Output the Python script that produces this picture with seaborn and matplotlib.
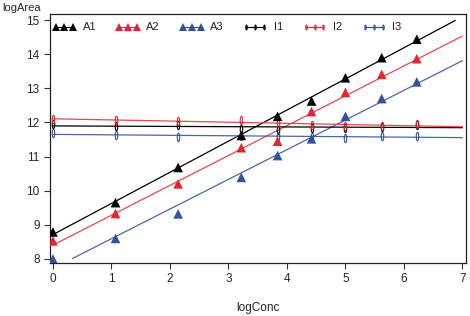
import numpy as np
import pandas as pd
import seaborn as sns
import matplotlib.pyplot as plt
from matplotlib.lines import Line2D

# values
log_conc = [0.0, 1.07, 2.14, 3.22, 3.84, 4.42, 5.0, 5.62, 6.22]
a1 = [8.79, 9.65, 10.68, 11.62, 12.18, 12.63, 13.31, 13.9, 14.44]
a2 = [8.53, 9.33, 10.2, 11.26, 11.45, 12.32, 12.88, 13.41, 13.87]
a3 = [8.0, 8.6, 9.32, 10.39, 11.03, 11.52, 12.18, 12.7, 13.19]
i1 = [11.95, 11.89, 11.92, 11.8, 11.79, 11.85, 11.85, 11.87, 11.94]
i2 = [12.09, 12.08, 12.04, 12.06, 11.98, 11.94, 11.89, 11.89, 11.95]
i3 = [11.7, 11.63, 11.57, 11.6, 11.6, 11.58, 11.55, 11.6, 11.6]

a_names = ['A1', 'A2', 'A3']
i_names = ['I1', 'I2', 'I3']
colors = ['#000000', '#e0262f', '#34539b']
line_colors = ['#000000', '#e5484d', '#4a66a8']

df_a = pd.DataFrame({'logConc': log_conc * 3, 'logArea': a1 + a2 + a3,
                     'grp': np.repeat(a_names, len(log_conc))})
df_i = pd.DataFrame({'logConc': log_conc * 3, 'logArea': i1 + i2 + i3,
                     'grp': np.repeat(i_names, len(log_conc))})

# straight line fits, drawn only where they fall inside 8..15
grid = np.linspace(0, 7, 400)
fits = []
for name, d in list(df_a.groupby('grp')) + list(df_i.groupby('grp')):
    k, b = np.polyfit(d['logConc'], d['logArea'], 1)
    yy = k * grid + b
    keep = (yy >= 8) & (yy <= 15)
    fits.append(pd.DataFrame({'logConc': grid[keep], 'logArea': yy[keep], 'grp': name}))
df_fit = pd.concat(fits)

sns.set_style('ticks')
plt.rcParams['font.family'] = ['Liberation Sans', 'DejaVu Sans']

# tall narrow open "0" marker
t = np.linspace(0, 2 * np.pi, 40)
oval = list(zip(0.3 * np.cos(t), np.sin(t)))

fig = plt.figure(figsize=(4.7, 3.16), dpi=100)
ax = fig.add_axes([0.1064, 0.1677, 0.885, 0.788])

pal = dict(zip(a_names + i_names, line_colors + line_colors))
sns.lineplot(data=df_fit, x='logConc', y='logArea', hue='grp', palette=pal,
             estimator=None, sort=True, linewidth=0.9, legend=False, ax=ax)

for name, c in zip(i_names, colors):
    sub = df_i[df_i['grp'] == name]
    sns.lineplot(data=sub, x='logConc', y='logArea', color=c, linestyle='',
                 marker=oval, markersize=6, mfc='none', mec=c, mew=0.8,
                 estimator=None, legend=False, ax=ax)

sns.scatterplot(data=df_a, x='logConc', y='logArea', hue='grp',
                palette=dict(zip(a_names, colors)), marker='^', s=48,
                linewidth=0, legend=False, ax=ax, zorder=3)

ax.set_xlim(-0.05, 7.06)
ax.set_ylim(7.88, 15.18)
ax.set_xticks(range(0, 8))
ax.set_yticks(range(8, 16))
ax.tick_params(labelsize=8.5, length=4, width=0.8, direction='out', color='#333333')
for s in ax.spines.values():
    s.set_linewidth(0.9)
    s.set_color('#222222')

ax.set_xlabel('logConc', fontsize=8.5, labelpad=12)
ax.set_ylabel('')
fig.text(0.005, 0.99, 'logArea', fontsize=8, ha='left', va='top')

handles = []
for c in colors:
    handles.append(Line2D([], [], color=c, marker='^', markersize=5.5, lw=0.8, mew=0))
for c in colors:
    handles.append(Line2D([], [], color=c, marker=oval, markersize=3.5, lw=0.9,
                          mfc='none', mec=c, mew=0.8))
ax.legend(handles, a_names + i_names, ncol=6, numpoints=3, frameon=False,
          loc='upper left', bbox_to_anchor=(0.0, 0.975), borderaxespad=0,
          borderpad=0.2, handlelength=2.2, handletextpad=0.55,
          columnspacing=1.75, fontsize=8)

fig.savefig('out.png', dpi=100)
